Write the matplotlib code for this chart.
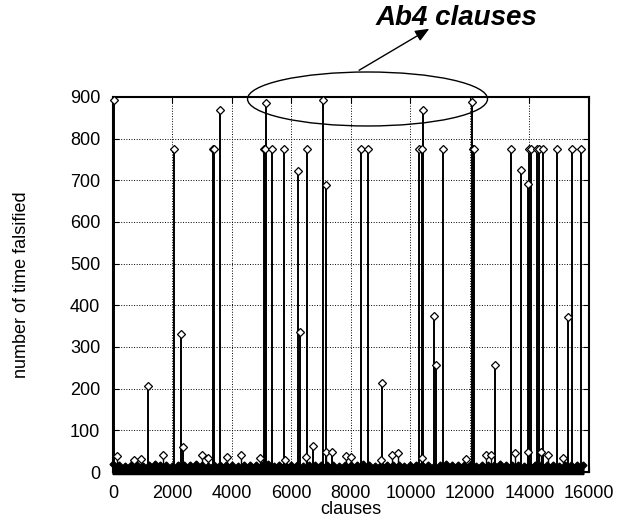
# -*- coding:utf-8 -*-
import matplotlib
matplotlib.use('Agg')
import matplotlib.pyplot as plt
from matplotlib.patches import Ellipse, FancyArrowPatch

plt.rcParams['font.family'] = ['Liberation Sans', 'DejaVu Sans']

# tall spikes (clause index, number of times falsified)
spike_x = [45, 1190, 2058, 2283, 2350, 3350, 3395, 3598, 5090, 5120, 5150, 5352,
           5768, 6230, 6274, 6520, 6712, 7060, 7151, 7376, 8354, 8590, 9040,
           10298, 10378, 10423, 10800, 10850, 11097, 12076, 12110, 12140, 12828,
           13391, 13705, 13941, 13975, 14042, 14268, 14312, 14470, 14909, 15280,
           15415, 15729]
spike_y = [892, 207, 776, 331, 61, 776, 776, 868, 776, 776, 886, 774,
           776, 722, 335, 776, 62, 892, 688, 49, 776, 776, 213,
           776, 776, 869, 374, 257, 776, 888, 776, 776, 256,
           776, 724, 692, 776, 776, 776, 776, 776, 776, 373,
           776, 776]

# small bumps sticking out above the dense floor
bump_x = [150, 700, 930, 1700, 2990, 3210, 3850, 4320, 4940, 5780, 6500, 7170,
          7840, 8000, 9000, 9380, 9590, 10400, 11870, 12550, 12700, 13500,
          13950, 14400, 14620, 15120]
bump_y = [38, 28, 32, 40, 42, 33, 35, 40, 33, 30, 35, 48,
          38, 35, 30, 42, 45, 33, 32, 42, 40, 45,
          48, 48, 40, 33]

# dense floor of low counts, one estimate every 200 clauses
floor_x = list(range(0, 16000, 200))
floor_y = [20, 16, 15, 17, 18, 15, 16, 19, 17, 16,
           15, 18, 16, 17, 19, 16, 15, 17, 18, 16,
           17, 15, 16, 18, 17, 16, 19, 15, 16, 17,
           18, 16, 15, 17, 16, 18, 17, 16, 15, 18,
           16, 17, 19, 16, 15, 17, 18, 16, 17, 15,
           16, 18, 17, 16, 15, 17, 19, 16, 18, 17,
           16, 15, 18, 17, 16, 19, 17, 16, 18, 15,
           17, 16, 18, 17, 16, 15, 17, 18, 16, 17]

x_ticks = [0, 2000, 4000, 6000, 8000, 10000, 12000, 14000, 16000]
y_ticks = [0, 100, 200, 300, 400, 500, 600, 700, 800, 900]


def main():
    fig = plt.figure(figsize=(6.34, 5.21), dpi=100)
    ax = fig.add_axes([0.178, 0.094, 0.751, 0.72])

    # floor band
    ax.fill_between(floor_x, -4, floor_y, color='black', lw=1.5, clip_on=False, zorder=2)
    ax.plot(floor_x, floor_y, ls='none', marker='D', ms=3.5, mfc='black', mec='black',
            clip_on=False, zorder=3)

    # bumps and spikes as impulses
    ax.vlines(bump_x, 0, bump_y, colors='black', lw=1.0, zorder=3)
    ax.plot(bump_x, bump_y, ls='none', marker='D', ms=3.8, mfc='white', mec='black',
            mew=0.9, zorder=4)
    ax.vlines(spike_x, 0, spike_y, colors='black', lw=1.4, zorder=3)
    ax.plot(spike_x, spike_y, ls='none', marker='D', ms=3.8, mfc='white', mec='black',
            mew=0.9, zorder=4, clip_on=False)

    ax.set_xlim(0, 16000)
    ax.set_ylim(0, 900)
    ax.set_xticks(x_ticks)
    ax.set_yticks(y_ticks)
    ax.tick_params(direction='in', top=True, right=True, length=4, width=0.8,
                   labelsize=13, colors='black', pad=9)
    ax.grid(True, ls=':', color='black', lw=0.7)
    ax.set_axisbelow(True)
    for s in ax.spines.values():
        s.set_linewidth(1.5)

    ax.set_xlabel('clauses', fontsize=13)
    ax.set_ylabel('number of time falsified', fontsize=13)
    ax.xaxis.set_label_coords(0.5, -0.076)
    ax.yaxis.set_label_coords(-0.173, 0.5)

    # annotation ellipse + arrow + text
    ell = Ellipse((0.5797, 0.810), 0.3785, 0.1036, transform=fig.transFigure,
                  fill=False, ec='black', lw=1.0)
    fig.add_artist(ell)
    fig.add_artist(FancyArrowPatch(
        (0.5626, 0.8624), (0.6809, 0.9476), transform=fig.transFigure,
        arrowstyle='-|>,head_length=0.6,head_width=0.25', mutation_scale=14,
        color='black', lw=1.0))
    fig.text(0.720, 0.9655, 'Ab4 clauses', ha='center', va='center',
             fontsize=20, fontweight='bold', fontstyle='italic')

    fig.savefig('out.png', dpi=100)


if __name__ == '__main__':
    main()
